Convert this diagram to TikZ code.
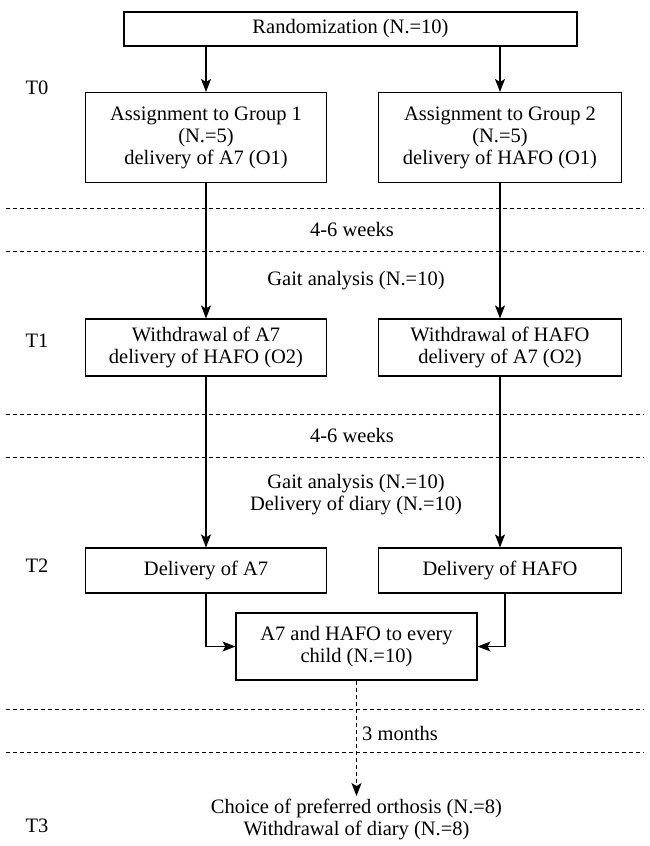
\documentclass[tikz,border=0pt]{standalone}
\usepackage{fontspec}
\setmainfont{Liberation Serif}
\usepackage{tikz}
\usetikzlibrary{arrows.meta}

\begin{document}
\begin{tikzpicture}[x=1pt, y=-1pt,
  font=\fontsize{20.5}{22}\selectfont,
  main/.style = {draw, line width=1.1pt, align=center, inner sep=2pt},
  sep/.style = {draw, line width=0.8pt, dash pattern=on 4pt off 3pt},
  arr/.style = {-{Stealth[length=13pt, width=10pt, inset=3pt]}, line width=1.1pt}]
	\useasboundingbox (0,0) rectangle (650,846);
	\node[main, minimum width=453, minimum height=34] (rand) at (350.5,29) {Randomization (N.=10)};
	\node[main, minimum width=241, minimum height=90] (g1) at (206,137.5) {Assignment to Group 1\\(N.=5)\\delivery of A7 (O1)};
	\node[main, minimum width=243, minimum height=90] (g2) at (500,137.5) {Assignment to Group 2\\(N.=5)\\delivery of HAFO (O1)};
	\node[main, minimum width=241, minimum height=57] (w1) at (206,347.5) {Withdrawal of A7\\delivery of HAFO (O2)};
	\node[main, minimum width=243, minimum height=57] (w2) at (500,347.5) {Withdrawal of HAFO\\delivery of A7 (O2)};
	\node[main, minimum width=241, minimum height=45] (d1) at (206,570.5) {Delivery of A7};
	\node[main, minimum width=243, minimum height=45] (d2) at (500,570.5) {Delivery of HAFO};
	\node[main, minimum width=241, minimum height=67] (both) at (356.5,646.5) {A7 and HAFO to every\\child (N.=10)};
	\node[align=center] (choice) at (356.5,819) {Choice of preferred orthosis (N.=8)\\Withdrawal of diary (N.=8)};
	% time points
	\node (t0) at (37,88) {T0};
	\node (t1) at (37,341) {T1};
	\node (t2) at (37,566) {T2};
	\node (t3) at (37,826) {T3};
	% periods
	\foreach \y in {208,251,414,457,709,752}
	    \draw[sep] (6,\y) -- (644,\y);
	\node (wk1) at (352,229.5) {4-6 weeks};
	\node (gait1) at (356,281) {Gait analysis (N.=10)};
	\node (wk2) at (352,435.5) {4-6 weeks};
	\node[align=center] (gait2) at (356,494.5) {Gait analysis (N.=10)\\Delivery of diary (N.=10)};
	\node[anchor=west, inner sep=0pt] (mon) at (362,733) {3 months};
	\draw[arr] (rand.south -| g1.north) -- (g1.north);
	\draw[arr] (rand.south -| g2.north) -- (g2.north);
	\draw[arr] (g1) -- (w1);
	\draw[arr] (g2) -- (w2);
	\draw[arr] (w1) -- (d1);
	\draw[arr] (w2) -- (d2);
	\draw[arr] (d1.south) |- (both.west);
	\draw[arr] ([xshift=5pt]d2.south) |- (both.east);
	\draw[arr, dash pattern=on 4pt off 3pt] (both.south) -- ([yshift=-1pt]choice.north);
\end{tikzpicture}
\end{document}
